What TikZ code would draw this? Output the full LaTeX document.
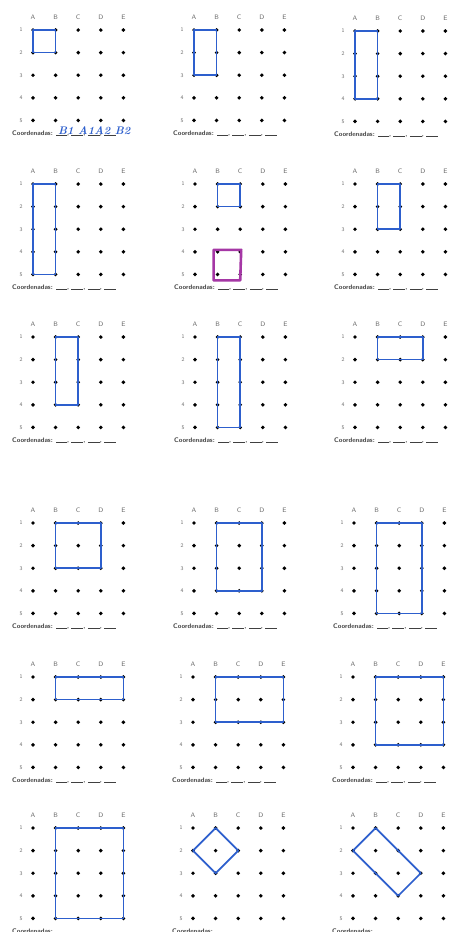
\documentclass[tikz,border=0pt]{standalone}
\usetikzlibrary{calc}
\definecolor{pen}{RGB}{45,95,205}
\definecolor{marker}{RGB}{165,55,165}
\definecolor{lbl}{RGB}{105,105,105}
\tikzset{
  dotmark/.style={circle,fill=black,inner sep=0pt,minimum size=3.9pt},
  collbl/.style={font=\sffamily\fontsize{6.5}{7}\selectfont,text=lbl,inner sep=0pt},
  rowlbl/.style={font=\sffamily\fontsize{5.5}{6}\selectfont,text=lbl,inner sep=0pt},
  coordlbl/.style={font=\sffamily\bfseries\fontsize{6.6}{7}\selectfont,text=black!75,inner sep=0pt,anchor=base west},
  penline/.style={draw=pen,line width=1.7pt,line join=round,line cap=round},
  markerline/.style={draw=marker,line width=2.6pt,line join=round,line cap=round},
  handtext/.style={font=\bfseries\itshape\fontsize{11}{12}\selectfont,text=pen,inner sep=0pt,anchor=west},
}
\newcommand\gridpanel[3]{%
  \foreach \c [count=\ci from 0] in {A,B,C,D,E}{%
    \node[collbl] (#1-h\c) at (#2+\ci*22.6, #3-13) {\c};
    \foreach \r in {1,...,5}{%
      \node[dotmark] (#1-\c\r) at (#2+\ci*22.6, #3+\r*22.6-22.6) {};
    }
  }
  \foreach \r in {1,...,5}{%
    \node[rowlbl] (#1-n\r) at (#2-12, #3+\r*22.6-22.6) {\r};
  }
  \node[coordlbl] (#1-coord) at (#2-21, #3+4*22.6+15)
    {Coordenadas: \rule{11pt}{0.5pt}, \rule{12pt}{0.5pt}, \rule{12pt}{0.5pt}, \rule{12pt}{0.5pt}};
}
\newcommand\rectpath[5]{%
  \draw[penline] (#1-#2.center) -- (#1-#3.center) -- (#1-#4.center) -- (#1-#5.center) -- cycle;
}
\begin{document}
\begin{tikzpicture}[x=1pt,y=-1pt]
\useasboundingbox (0,0) rectangle (451,932);
\clip (0,0) rectangle (451,932);
\fill[white] (0,0) rectangle (451,932);
% panels
\gridpanel{p11}{33}{30}
\gridpanel{p12}{194}{30}
\gridpanel{p13}{355}{31}
\gridpanel{p21}{33}{184}
\gridpanel{p22}{195}{184}
\gridpanel{p23}{355}{184}
\gridpanel{p31}{33}{337}
\gridpanel{p32}{195}{337}
\gridpanel{p33}{355}{337}
\gridpanel{p41}{33}{523}
\gridpanel{p42}{194}{523}
\gridpanel{p43}{354}{523}
\gridpanel{p51}{33}{677}
\gridpanel{p52}{193}{677}
\gridpanel{p53}{353}{677}
\gridpanel{p61}{33}{828}
\gridpanel{p62}{193}{828}
\gridpanel{p63}{353}{828}
% drawn rectangles
\rectpath{p11}{A1}{B1}{B2}{A2}
\rectpath{p12}{A1}{B1}{B3}{A3}
\rectpath{p13}{A1}{B1}{B4}{A4}
\rectpath{p21}{A1}{B1}{B5}{A5}
\rectpath{p22}{B1}{C1}{C2}{B2}
\draw[markerline] ($(p22-B4.center)+(-4,-2)$) -- ($(p22-C4.center)+(1,-2)$)
  -- ($(p22-C5.center)+(0,6)$) -- ($(p22-B5.center)+(-4,6)$) -- cycle;
\rectpath{p23}{B1}{C1}{C3}{B3}
\rectpath{p31}{B1}{C1}{C4}{B4}
\rectpath{p32}{B1}{C1}{C5}{B5}
\rectpath{p33}{B1}{D1}{D2}{B2}
\rectpath{p41}{B1}{D1}{D3}{B3}
\rectpath{p42}{B1}{D1}{D4}{B4}
\rectpath{p43}{B1}{D1}{D5}{B5}
\rectpath{p51}{B1}{E1}{E2}{B2}
\rectpath{p52}{B1}{E1}{E3}{B3}
\rectpath{p53}{B1}{E1}{E4}{B4}
\rectpath{p61}{B1}{E1}{E5}{B5}
\rectpath{p62}{B1}{C2}{B3}{A2}
\rectpath{p63}{B1}{D3}{C4}{A2}
% handwritten answer
\node[handtext] (p11-answer) at (58,131) {B1 A1A2 B2};
\end{tikzpicture}
\end{document}
